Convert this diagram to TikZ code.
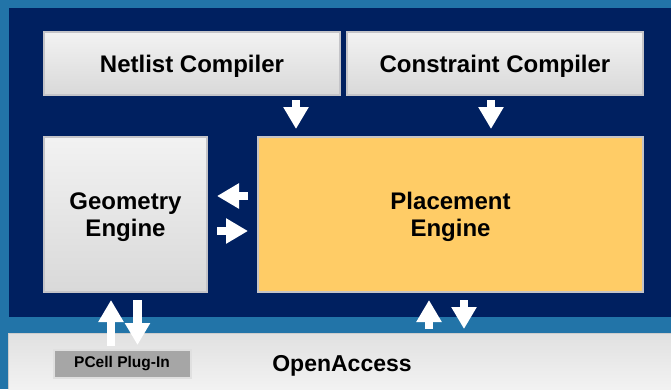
\documentclass[tikz,border=0pt]{standalone}
\usepackage{fontspec}
\setmainfont{Liberation Sans}
\usetikzlibrary{arrows.meta}
\definecolor{bgblue}{RGB}{34,116,168}
\definecolor{navy}{RGB}{0,32,96}
\definecolor{placefill}{RGB}{255,204,102}
\definecolor{edgegray}{RGB}{196,196,200}
\tikzset{
  boxtext/.style={font=\bfseries\fontsize{24}{27.5}\selectfont, align=center, text=black, yshift=-2.5pt},
  graybox/.style={draw=edgegray, line width=1.2pt, top color=white!95!black, bottom color=white!85!black,
    inner sep=0pt},
  placebox/.style={draw=edgegray, line width=1.2pt, fill=placefill, inner sep=0pt},
  blockarrow/.style={draw=white, line width=8.5pt, -{Triangle[width=24pt,length=22pt]}, white},
}
\begin{document}
\begin{tikzpicture}[x=1pt,y=-1pt]
  \useasboundingbox (0,0) rectangle (671,389);
  % backdrop and framing panels
  \fill[bgblue] (0,0) rectangle (671,389);
  \fill[navy] (9,8) rectangle (671,317);
  \fill[top color=white!88!black, bottom color=white!95!black] (8,333) rectangle (671,389);
  \draw[white!80!black, line width=1pt] (8,389) -- (8,333.5) -- (671,333.5);

  % main blocks
  \node[graybox, minimum width=296pt, minimum height=63pt,
        label={[boxtext]center:Netlist Compiler}] (netlist) at (192,63.5) {};
  \node[graybox, minimum width=296pt, minimum height=63pt,
        label={[boxtext]center:Constraint Compiler}] (constraint) at (495,63.5) {};
  \node[graybox, minimum width=163pt, minimum height=155pt,
        label={[boxtext]center:Geometry\\Engine}] (geometry) at (125.5,214.5) {};
  \node[placebox, minimum width=385pt, minimum height=155pt,
        label={[boxtext]center:Placement\\Engine}] (placement) at (450.5,214.5) {};

  % OpenAccess bar contents
  \node[draw=white!88!black, line width=2pt, fill=white!65!black, minimum width=137pt, minimum height=28pt,
        inner sep=0pt, font=\bfseries\fontsize{15.5}{17}\selectfont] (pcell) at (122,363.5) {PCell Plug-In};
  \node[font=\bfseries\fontsize{23}{26}\selectfont] (oa) at (342,366) {OpenAccess};

  % arrow end points
  \coordinate (nA) at (296,100);  \coordinate (nB) at (296,129);
  \coordinate (cA) at (491,100);  \coordinate (cB) at (491,129);
  \coordinate (lA) at (248,196);  \coordinate (lB) at (217,196);
  \coordinate (rA) at (217,231);  \coordinate (rB) at (248,231);
  \coordinate (puA) at (111,346); \coordinate (puB) at (111,300);
  \coordinate (pdA) at (137.5,300); \coordinate (pdB) at (137.5,345);
  \coordinate (quA) at (429,329); \coordinate (quB) at (429,300);
  \coordinate (qdA) at (464,300); \coordinate (qdB) at (464,329);

  % data flow arrows
  \draw[blockarrow] (nA) -- (nB);
  \draw[blockarrow] (cA) -- (cB);
  \draw[blockarrow] (lA) -- (lB);
  \draw[blockarrow] (rA) -- (rB);
  \draw[blockarrow] (puA) -- (puB);
  \draw[blockarrow] (pdA) -- (pdB);
  \draw[blockarrow] (quA) -- (quB);
  \draw[blockarrow] (qdA) -- (qdB);
\end{tikzpicture}
\end{document}
